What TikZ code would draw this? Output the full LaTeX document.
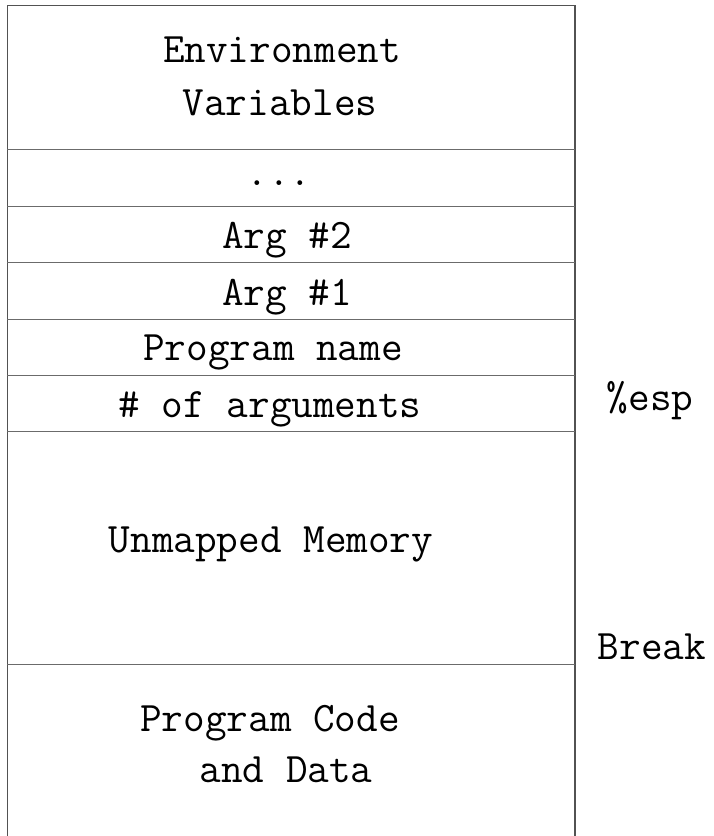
\documentclass[tikz,border=0pt]{standalone}
\usepackage{fontspec}
\begin{document}
\begin{tikzpicture}[x=1pt,y=-1pt,
  outer/.style={draw=black!68,line width=1.6pt},
  divider/.style={draw=black!58,line width=1.1pt},
  lbl/.style={anchor=base,inner sep=0pt,font=\fontsize{42}{50}\selectfont\ttfamily},
  side/.style={anchor=base,inner sep=0pt,font=\fontsize{42}{50}\selectfont\ttfamily}]
\useasboundingbox (0,0) rectangle (713,836);
\fill[white] (0,0) rectangle (713,836);
% outer frame (open at the bottom)
\draw[outer] (7.3,840) -- (7.3,5.3) -- (574.8,5.3) -- (574.8,840);
% dividers
\foreach \yy in {149.6,206.1,262.9,319.5,375.8,431.8,664.6}
  \draw[divider] (7.3,\yy) -- (574.8,\yy);
% cell texts
\node[lbl] (env)  at (282,62)  {Environment};
\node[lbl] (var)  at (280,115) {Variables};
\node[lbl] (dots) at (279,185) {...};
\node[lbl] (arg2) at (287,248) {Arg \#2};
\node[lbl] (arg1) at (287,305) {Arg \#1};
\node[lbl] (pname) at (273,360) {Program name};
\node[lbl] (nargs) at (270,417) {\# of arguments};
\node[lbl] (unm)  at (271,552) {Unmapped Memory};
\node[lbl] (code) at (270,731) {Program Code};
\node[lbl] (data) at (286,782) {and Data};
% side labels
\node[side] (esp) at (650,410) {\%esp};
\node[side] (brk) at (652,659) {Break};
\end{tikzpicture}
\end{document}
